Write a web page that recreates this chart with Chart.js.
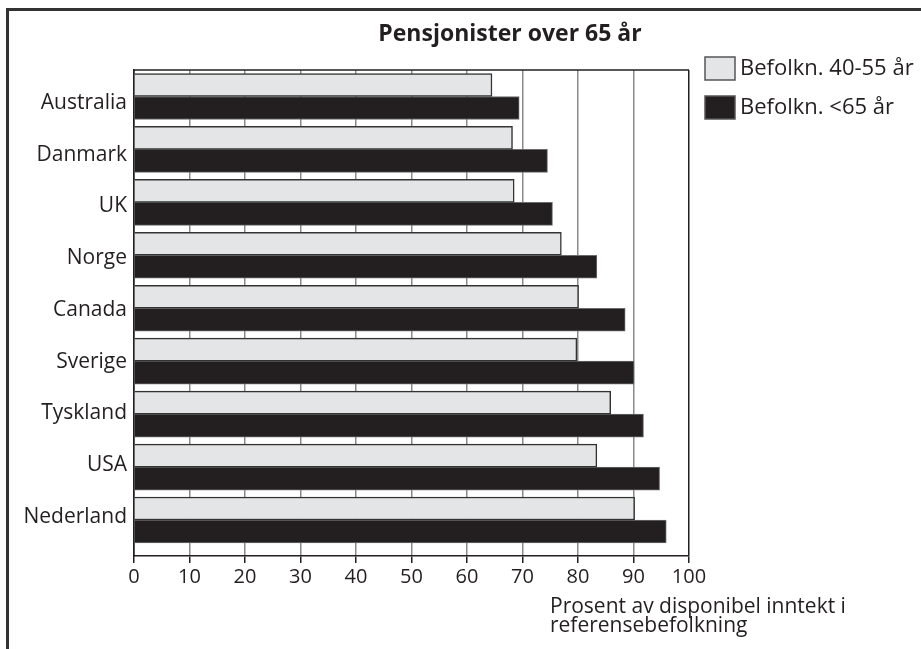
<!DOCTYPE html>
<html>
<head>
<meta charset="utf-8">
<style>
  html, body { margin: 0; padding: 0; background: #ffffff; }
  #wrap { width: 921px; height: 649px; position: relative; }
</style>
<script src="https://cdn.jsdelivr.net/npm/chart.js@4/dist/chart.umd.min.js"></script>
</head>
<body>
<div id="wrap"><canvas id="chart" width="921" height="649"></canvas></div>
<script>
// Pensjonisters disponible inntekt i prosent av referansebefolkningen
const countries = ['Australia', 'Danmark', 'UK', 'Norge', 'Canada', 'Sverige', 'Tyskland', 'USA', 'Nederland'];
const pop4055 = [64.5, 68.2, 68.5, 77.0, 80.1, 79.8, 85.9, 83.4, 90.2];
const popUnder65 = [69.4, 74.5, 75.4, 83.4, 88.5, 90.1, 91.8, 94.7, 95.9];
const seriesNames = ['Befolkn. 40-55 år', 'Befolkn. <65 år'];
const xTicks = [0, 10, 20, 30, 40, 50, 60, 70, 80, 90, 100];
const chartTitle = 'Pensjonister over 65 år';
const axisTitle = ['Prosent av disponibel inntekt i', 'referensebefolkning'];

const INK = '#231f20';
const FONT = "'Open Sans', 'Noto Sans', sans-serif";
const N = countries.length;

// each bar sits at its country's row index on the vertical axis
const rows = (values) => values.map((v, i) => ({ x: v, y: i }));

// White background and the outer frame
const framePlugin = {
  id: 'frame',
  beforeDraw(chart) {
    const ctx = chart.ctx;
    ctx.save();
    ctx.fillStyle = '#ffffff';
    ctx.fillRect(0, 0, chart.width, chart.height);
    ctx.strokeStyle = '#333333';
    ctx.lineWidth = 3;
    ctx.strokeRect(7.5, 9.5, chart.width + 20, chart.height + 20);
    ctx.restore();
  }
};

// Top edge of the plot box, title, legend and axis caption
const decorPlugin = {
  id: 'decor',
  afterDraw(chart) {
    const ctx = chart.ctx;
    const a = chart.chartArea;
    ctx.save();
    ctx.strokeStyle = INK;
    ctx.lineWidth = 1.5;
    ctx.beginPath();
    ctx.moveTo(a.left, a.top);
    ctx.lineTo(a.right, a.top);
    ctx.stroke();

    // title
    ctx.fillStyle = INK;
    ctx.font = "bold 23px " + FONT;
    ctx.textAlign = 'center';
    ctx.textBaseline = 'middle';
    ctx.fillText(chartTitle, 510, 34);

    // legend
    ctx.font = "22px " + FONT;
    ctx.textAlign = 'left';
    chart.data.datasets.forEach((ds, i) => {
      const y = 57 + i * 39;
      ctx.fillStyle = ds.backgroundColor;
      ctx.fillRect(705, y, 30, 23);
      ctx.strokeStyle = '#555555';
      ctx.lineWidth = 1.5;
      ctx.strokeRect(705, y, 30, 23);
      ctx.fillStyle = INK;
      ctx.fillText(ds.label, 740, y + 12);
    });

    // x-axis caption
    ctx.font = "21px " + FONT;
    axisTitle.forEach((line, i) => {
      ctx.fillText(line, 550, 607 + i * 19);
    });
    ctx.restore();
  }
};

new Chart(document.getElementById('chart'), {
  type: 'bar',
  data: {
    labels: countries,
    datasets: [
      {
        label: seriesNames[0],
        data: rows(pop4055),
        backgroundColor: '#e4e5e6',
        borderColor: '#333333',
        borderWidth: 1.5
      },
      {
        label: seriesNames[1],
        data: rows(popUnder65),
        backgroundColor: INK,
        borderColor: '#6b6b6b',
        borderWidth: 1
      }
    ]
  },
  options: {
    indexAxis: 'y',
    responsive: false,
    animation: false,
    devicePixelRatio: 1,
    layout: { padding: { top: 70, right: 232, left: 0, bottom: 0 } },
    datasets: { bar: { barThickness: 23 } },
    plugins: {
      legend: { display: false },
      title: { display: false },
      tooltip: { enabled: false }
    },
    scales: {
      x: {
        type: 'linear',
        min: 0,
        max: 100,
        afterBuildTicks(scale) { scale.ticks = xTicks.map(v => ({ value: v })); },
        afterFit(scale) { scale.height = 93; },
        grid: {
          color: ctx => (ctx.tick && (ctx.tick.value === 100 || ctx.tick.value === 0)) ? INK : '#8a8a8a',
          lineWidth: 1.5,
          drawTicks: true,
          tickLength: 7,
          tickColor: INK
        },
        border: { display: true, color: INK, width: 1.5 },
        ticks: {
          color: INK,
          font: { family: FONT, size: 20 },
          padding: 2,
          maxRotation: 0
        }
      },
      // row axis that places the bar groups (a little room below the last row)
      y: {
        type: 'linear',
        display: false,
        reverse: true,
        offset: false,
        min: -0.5,
        max: 8.68,
        grid: { offset: false }
      },
      // country names, spaced a little tighter than the bar groups
      yl: {
        type: 'linear',
        position: 'left',
        offset: false,
        bounds: 'data',
        min: -0.754,
        max: 8.637,
        afterBuildTicks(scale) { scale.ticks = countries.map((c, i) => ({ value: N - 1 - i })); },
        afterFit(scale) { scale.width = 134; },
        grid: { display: false, drawTicks: false, offset: false },
        border: { display: true, color: INK, width: 1.5 },
        ticks: {
          color: INK,
          font: { family: FONT, size: 21 },
          padding: 7,
          autoSkip: false,
          callback: (v) => countries[N - 1 - v]
        }
      }
    }
  },
  plugins: [framePlugin, decorPlugin]
});
</script>
</body>
</html>
